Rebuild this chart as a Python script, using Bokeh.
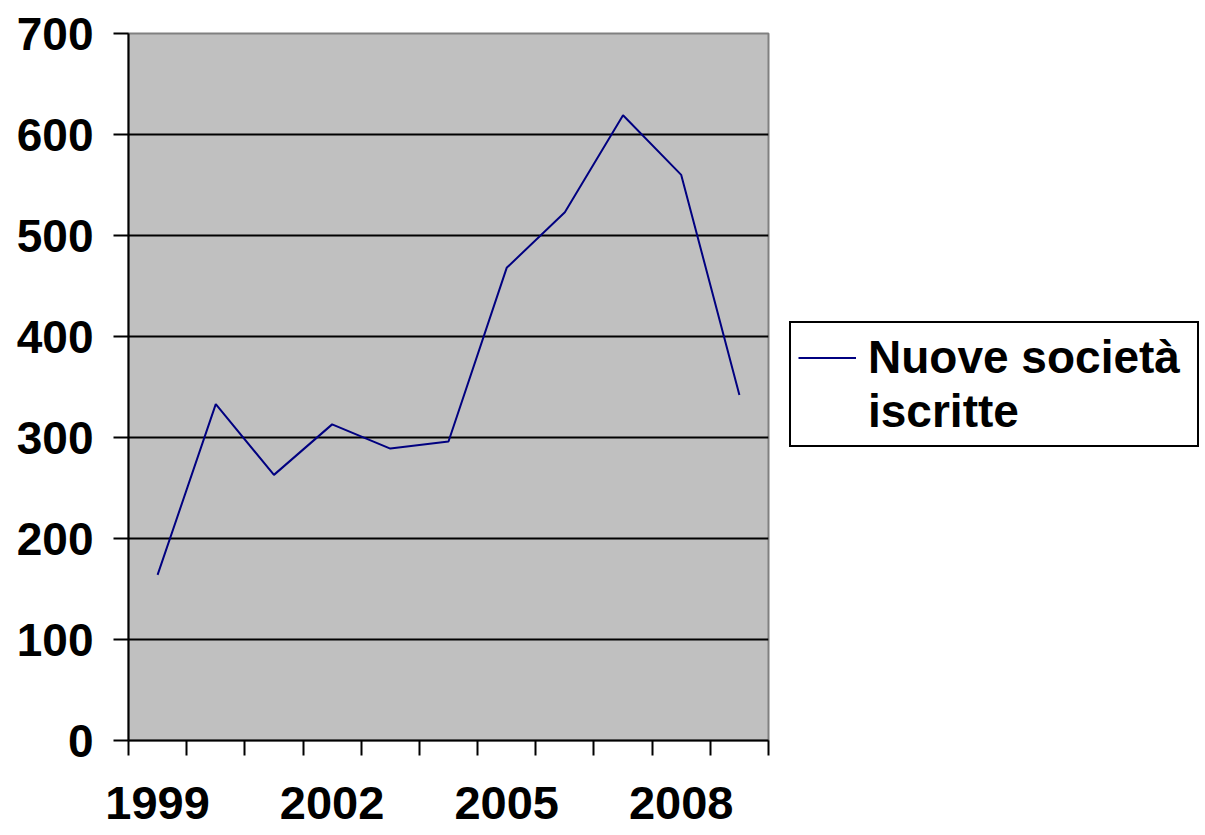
from bokeh.plotting import figure
from bokeh.models import FixedTicker, Legend, LegendItem, Range1d
from bokeh.embed import file_html
from bokeh.resources import INLINE

years = [1999, 2000, 2001, 2002, 2003, 2004, 2005, 2006, 2007, 2008, 2009]
values = [164, 333, 263, 313, 289, 296, 468, 523, 619, 560, 342]
x_tick_labels = [1999, 2002, 2005, 2008]
y_ticks = [0, 100, 200, 300, 400, 500, 600, 700]
series_name_lines = ["Nuove società", "iscritte"]

FONT = "Liberation Sans"

p = figure(frame_width=640, frame_height=707, output_backend="svg",
           toolbar_location=None, x_range=Range1d(1998.5, 2009.5),
           y_range=Range1d(0, 700), min_border_left=128, min_border_top=33,
           min_border_right=435, min_border_bottom=92)
p.border_fill_color = "white"
p.background_fill_color = "#C0C0C0"
p.outline_line_color = "#808080"
p.outline_line_width = 2

r = p.line(years, values, line_color="#000080", line_width=2)
# invisible companion renderer used only for the second line of the legend label
r2 = p.line(years, values, line_color="#000080", line_alpha=0)

# x axis
xa = p.xaxis[0]
xa.ticker = FixedTicker(ticks=x_tick_labels,
                        minor_ticks=[y - 0.5 for y in years] + [years[-1] + 0.5])
xa.major_tick_out = 0
xa.major_tick_in = 0
xa.minor_tick_out = 15
xa.minor_tick_in = 0
xa.minor_tick_line_color = "black"
xa.minor_tick_line_width = 2
xa.axis_line_color = "black"
xa.axis_line_width = 2
xa.major_label_text_font = FONT
xa.major_label_text_font_style = "bold"
xa.major_label_text_font_size = "47px"
xa.major_label_text_color = "black"
xa.major_label_standoff = 31

ya = p.yaxis[0]
ya.ticker = FixedTicker(ticks=y_ticks)
ya.major_tick_out = 15
ya.major_tick_in = 0
ya.minor_tick_out = 0
ya.minor_tick_in = 0
ya.major_tick_line_color = "black"
ya.major_tick_line_width = 2
ya.axis_line_color = "black"
ya.axis_line_width = 2
ya.major_label_text_font = FONT
ya.major_label_text_font_style = "bold"
ya.major_label_text_font_size = "46px"
ya.major_label_text_color = "black"
ya.major_label_standoff = 20

p.xgrid.grid_line_color = None
p.ygrid.ticker = FixedTicker(ticks=y_ticks)
p.ygrid.grid_line_color = "black"
p.ygrid.grid_line_width = 2

legend = Legend(items=[LegendItem(label=series_name_lines[0], renderers=[r]),
                       LegendItem(label=series_name_lines[1], renderers=[r2])],
                location=(21, 293))
legend.label_text_font = FONT
legend.label_text_font_style = "bold"
legend.label_text_font_size = "46px"
legend.label_text_color = "black"
legend.label_height = 53
legend.label_width = 322
legend.border_line_color = "black"
legend.border_line_width = 2
legend.border_line_alpha = 1.0
legend.background_fill_alpha = 1.0
legend.glyph_width = 58
legend.glyph_height = 53
legend.padding = 7
legend.spacing = 0
legend.margin = 0
legend.label_standoff = 12
legend.background_fill_color = "white"
p.add_layout(legend, "right")

open("out.html", "w").write(file_html(p, INLINE))
